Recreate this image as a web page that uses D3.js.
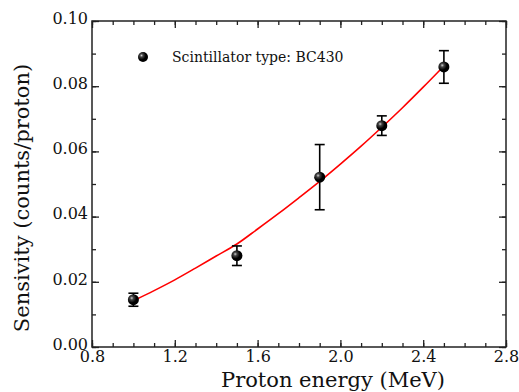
<!DOCTYPE html>
<html>
<head>
<meta charset="utf-8">
<script src="https://cdn.jsdelivr.net/npm/d3@7"></script>
<style>
  body { margin: 0; background: #fff; }
  text { font-family: "DejaVu Serif", serif; fill: #111; }
</style>
</head>
<body>
<div class="canvas"></div>
<script>
// data
const energy = [1.0, 1.5, 1.9, 2.2, 2.5]
const sensitivity = [0.0145, 0.0280, 0.0521, 0.0679, 0.0859]
const errors = [0.0020, 0.0030, 0.0100, 0.0030, 0.0050]

// red fit curve
const fitEnergy = [1.0, 1.1, 1.2, 1.3, 1.4, 1.5, 1.6, 1.7, 1.8, 1.9, 2.0, 2.1, 2.2, 2.3, 2.4, 2.5]
const fitSensitivity = [0.0142, 0.0173, 0.0206, 0.0242, 0.0279, 0.0316, 0.0362, 0.0409, 0.0458, 0.0508, 0.0561, 0.0616, 0.0674, 0.0734, 0.0797, 0.0862]

const xTicks = [0.8, 1.2, 1.6, 2.0, 2.4, 2.8]
const yTicks = [0.00, 0.02, 0.04, 0.06, 0.08, 0.10]
const legendLabel = 'Scintillator type: BC430'

// 1 - dimensions
const dims = { width: 519, height: 392 }
const plot = { left: 92, right: 506, top: 21, bottom: 347 }
const serif = '"DejaVu Serif", serif'

const svg = d3.select('.canvas')
    .append('svg')
    .attr('width', dims.width)
    .attr('height', dims.height)

const defs = svg.append('defs')
const grad = defs.append('radialGradient')
    .attr('id', 'ball')
    .attr('cx', '35%').attr('cy', '35%').attr('r', '65%')
grad.append('stop').attr('offset', '0%').attr('stop-color', '#d0d0d0')
grad.append('stop').attr('offset', '25%').attr('stop-color', '#444')
grad.append('stop').attr('offset', '65%').attr('stop-color', '#000')

// 2 - scales
const x = d3.scaleLinear().domain([0.8, 2.8]).range([plot.left, plot.right])
const y = d3.scaleLinear().domain([0, 0.10]).range([plot.bottom, plot.top])

const axisColor = '#222'

// 3 - axes (ticks inward, mirrored)
const xMinor = d3.range(0.8, 2.8001, 0.1)
const yMinor = d3.range(0, 0.10001, 0.01)

const axes = svg.append('g')

axes.append('g').attr('transform', `translate(0, ${plot.bottom})`)
    .call(d3.axisBottom(x).tickValues(xMinor).tickSize(-4).tickFormat(''))
axes.append('g').attr('transform', `translate(0, ${plot.bottom})`)
    .call(d3.axisBottom(x).tickValues(xTicks).tickSize(-7).tickPadding(4).tickFormat(d3.format('.1f')))
axes.append('g').attr('transform', `translate(0, ${plot.top})`)
    .call(d3.axisTop(x).tickValues(xMinor).tickSize(-4).tickFormat(''))
axes.append('g').attr('transform', `translate(0, ${plot.top})`)
    .call(d3.axisTop(x).tickValues(xTicks).tickSize(-7).tickFormat(''))

axes.append('g').attr('transform', `translate(${plot.left}, 0)`)
    .call(d3.axisLeft(y).tickValues(yMinor).tickSize(-4).tickFormat(''))
const yLabels = axes.append('g').attr('transform', `translate(${plot.left}, 0)`)
    .call(d3.axisLeft(y).tickValues(yTicks).tickSize(-7).tickPadding(4).tickFormat(d3.format('.2f')))
axes.append('g').attr('transform', `translate(${plot.right}, 0)`)
    .call(d3.axisRight(y).tickValues(yMinor).tickSize(-4).tickFormat(''))
axes.append('g').attr('transform', `translate(${plot.right}, 0)`)
    .call(d3.axisRight(y).tickValues(yTicks).tickSize(-7).tickFormat(''))

axes.selectAll('.domain').remove()
axes.selectAll('line').attr('stroke', axisColor).attr('stroke-width', 1.3)
axes.selectAll('text')
    .style('font-family', serif)
    .style('font-size', '16px')
    .attr('fill', '#111')
// y labels sit a touch above their ticks in the original
yLabels.selectAll('text').attr('dy', '0.14em')

// frame
svg.append('rect')
    .attr('x', plot.left).attr('y', plot.top)
    .attr('width', plot.right - plot.left)
    .attr('height', plot.bottom - plot.top)
    .attr('fill', 'none')
    .attr('stroke', axisColor)
    .attr('stroke-width', 1.5)

// 4 - axis titles
svg.append('text')
    .attr('x', 333)
    .attr('y', 387)
    .attr('text-anchor', 'middle')
    .style('font-family', serif)
    .style('font-size', '21px')
    .text('Proton energy (MeV)')

svg.append('text')
    .attr('transform', `translate(29, ${(plot.top + plot.bottom) / 2 + 14}) rotate(-90)`)
    .attr('text-anchor', 'middle')
    .style('font-family', serif)
    .style('font-size', '21px')
    .text('Sensivity (counts/proton)')

// 5 - fit curve
const fitLine = d3.line()
    .x((d, i) => x(fitEnergy[i]))
    .y(d => y(d))
    .curve(d3.curveCatmullRom)

svg.append('path')
    .datum(fitSensitivity)
    .attr('d', fitLine)
    .attr('fill', 'none')
    .attr('stroke', '#ff0000')
    .attr('stroke-width', 1.6)

// 6 - error bars + points
const points = energy.map((e, i) => ({ e, s: sensitivity[i], err: errors[i] }))
const bars = svg.append('g').attr('stroke', '#000').attr('stroke-width', 1.6)

points.forEach(d => {
    const cx = x(d.e)
    bars.append('line')
        .attr('x1', cx).attr('x2', cx)
        .attr('y1', y(d.s - d.err)).attr('y2', y(d.s + d.err))
    bars.append('line')
        .attr('x1', cx - 5).attr('x2', cx + 5)
        .attr('y1', y(d.s + d.err)).attr('y2', y(d.s + d.err))
    bars.append('line')
        .attr('x1', cx - 5).attr('x2', cx + 5)
        .attr('y1', y(d.s - d.err)).attr('y2', y(d.s - d.err))
})

svg.selectAll('circle.pt')
    .data(points)
    .enter()
    .append('circle')
        .attr('class', 'pt')
        .attr('cx', d => x(d.e))
        .attr('cy', d => y(d.s))
        .attr('r', 5.5)
        .attr('fill', 'url(#ball)')

// 7 - legend
svg.append('circle')
    .attr('cx', 143).attr('cy', 57).attr('r', 5)
    .attr('fill', 'url(#ball)')
svg.append('text')
    .attr('x', 172).attr('y', 62)
    .style('font-family', serif)
    .style('font-size', '14px')
    .text(legendLabel)
</script>
</body>
</html>
